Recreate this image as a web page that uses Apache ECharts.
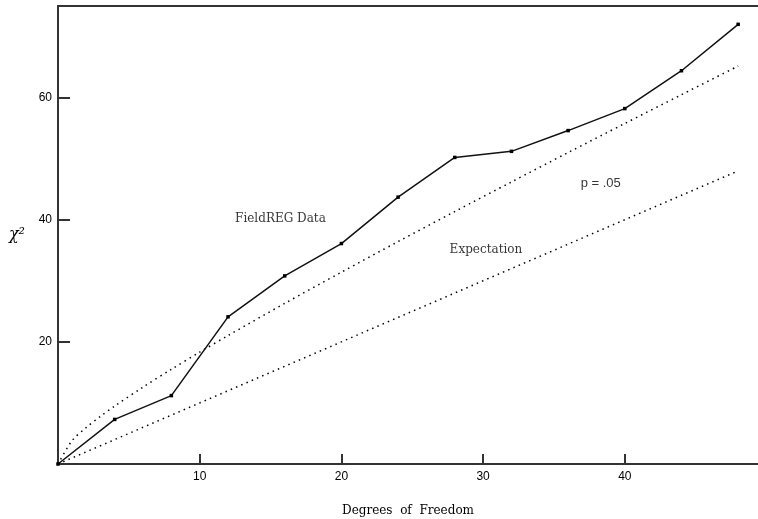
<!DOCTYPE html>
<html>
<head>
<meta charset="utf-8">
<script src="https://cdn.jsdelivr.net/npm/echarts@6/dist/echarts.min.js"></script>
<style>
  html, body { margin: 0; padding: 0; background: #fff; }
  #chart { width: 758px; height: 519px; }
</style>
</head>
<body>
<div id="chart"></div>
<script>
// FieldREG data (degrees of freedom / chi-square)
const fieldDf = [0, 4, 8, 12, 16, 20, 24, 28, 32, 36, 40, 44, 48]
const fieldChi = [0, 7.3, 11.2, 24.1, 30.8, 36.1, 43.7, 50.2, 51.2, 54.6, 58.2, 64.4, 72.0]

// p = .05 critical values
const critDf = [0, 1, 2, 3, 4, 6, 8, 10, 12, 16, 20, 24, 28, 32, 36, 40, 44, 48]
const critChi = [0, 3.84, 5.99, 7.81, 9.49, 12.59, 15.51, 18.31, 21.03, 26.30, 31.41, 36.42, 41.34, 46.19, 51.00, 55.76, 60.48, 65.17]

// expectation (chi-square = df)
const expDf = [0, 48]
const expChi = [0, 48]

// text labels inside the plot
const noteText = ['FieldREG Data', 'Expectation']
const noteX = [15.7, 30.2]
const noteY = [40.1, 35.1]
const pText = 'p = .05'
const pX = 38.3
const pY = 45.9

const zip = (xs, ys) => xs.map((x, i) => [x, ys[i]])

let chart = echarts.init(document.getElementById('chart'))

const axisCol = '#333'
const dotted = { color: '#000', width: 1.5, type: [1.5, 4.2] }

chart.setOption({
  animation: false,
  grid: { left: 58, top: 6, right: 0, bottom: 55, outerBoundsMode: 'none', containLabel: false },
  xAxis: [
    {
      type: 'value',
      min: 0, max: 49.4, interval: 10,
      name: 'Degrees  of  Freedom',
      nameLocation: 'middle',
      nameGap: 41,
      nameTextStyle: { fontFamily: 'DejaVu Serif', fontSize: 12, color: '#000' },
      axisLine: { lineStyle: { color: axisCol, width: 2 } },
      axisTick: { inside: true, length: 10, lineStyle: { color: axisCol, width: 2 } },
      axisLabel: { showMinLabel: false, showMaxLabel: false, margin: 7, fontFamily: 'Liberation Sans', fontSize: 12, color: '#000' },
      splitLine: { show: false }
    },
    {
      type: 'value', position: 'top',
      min: 0, max: 49.4,
      axisLine: { lineStyle: { color: axisCol, width: 2 } },
      axisTick: { show: false }, axisLabel: { show: false }, splitLine: { show: false }
    }
  ],
  yAxis: {
    type: 'value',
    min: 0, max: 75, interval: 20,
    name: 'χ²',
    nameLocation: 'middle',
    nameRotate: 0,
    nameGap: 33,
    nameTextStyle: { fontFamily: 'DejaVu Serif', fontSize: 16, fontStyle: 'italic', color: '#000' },
    axisLine: { lineStyle: { color: axisCol, width: 2 } },
    axisTick: { inside: true, length: 12, lineStyle: { color: axisCol, width: 2 } },
    axisLabel: { showMinLabel: false, showMaxLabel: false, margin: 6, fontFamily: 'Liberation Sans', fontSize: 12, color: '#000' },
    splitLine: { show: false }
  },
  series: [
    {
      type: 'line',
      data: zip(expDf, expChi),
      symbol: 'none',
      lineStyle: dotted
    },
    {
      type: 'line',
      data: zip(critDf, critChi),
      symbol: 'none',
      smooth: 0.3,
      lineStyle: dotted
    },
    {
      type: 'line',
      data: zip(fieldDf, fieldChi),
      symbol: 'rect',
      symbolSize: 3.5,
      itemStyle: { color: '#000' },
      lineStyle: { color: '#111', width: 1.5 }
    },
    {
      type: 'scatter',
      data: noteText.map((t, i) => ({ value: [noteX[i], noteY[i]], name: t })),
      symbolSize: 0,
      label: {
        show: true,
        position: 'inside',
        formatter: p => p.name,
        color: '#000',
        fontSize: 12,
        fontFamily: 'DejaVu Serif'
      },
      silent: true
    },
    {
      type: 'scatter',
      data: [{ value: [pX, pY], name: pText }],
      symbolSize: 0,
      label: {
        show: true,
        position: 'inside',
        formatter: p => p.name,
        color: '#000',
        fontSize: 13,
        fontFamily: 'Liberation Sans'
      },
      silent: true
    }
  ]
})
</script>
</body>
</html>
